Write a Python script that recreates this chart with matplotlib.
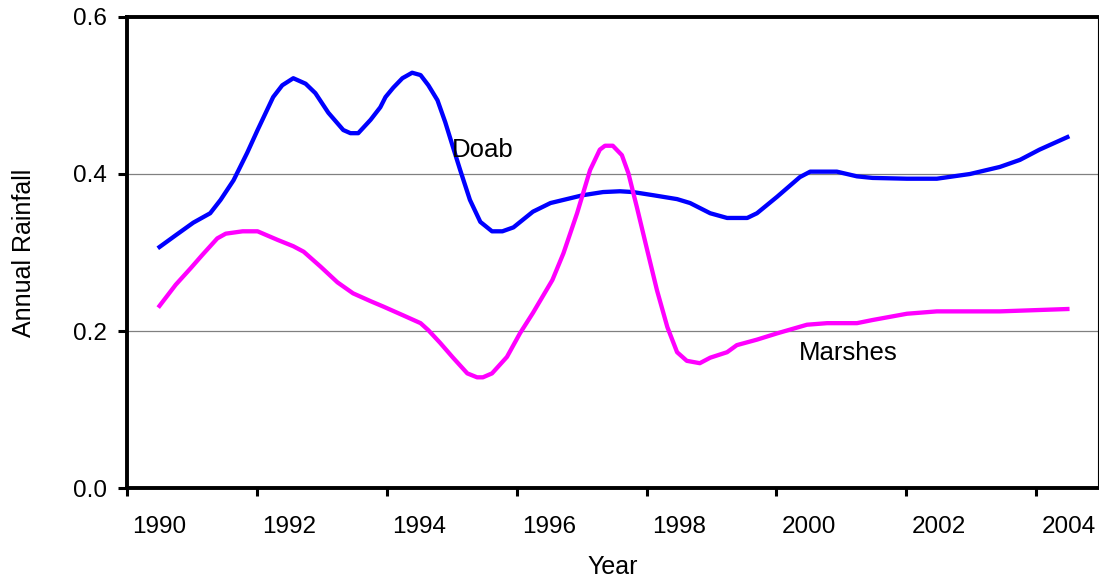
import matplotlib.pyplot as plt
from matplotlib.ticker import FixedLocator, NullFormatter

plt.rcParams.update({'font.family': ['Liberation Sans', 'DejaVu Sans'], 'font.size': 17.5})

# Doab series (fractional year, annual rainfall)
doab_year = [1990.0, 1990.25, 1990.52, 1990.78, 1990.94, 1991.14, 1991.35, 1991.51,
             1991.75, 1991.89, 1992.06, 1992.25, 1992.40, 1992.60, 1992.83, 1992.94,
             1993.06, 1993.25, 1993.40, 1993.48, 1993.60, 1993.74, 1993.89, 1994.02,
             1994.14, 1994.28, 1994.40, 1994.52, 1994.63, 1994.78, 1994.94, 1995.12,
             1995.28, 1995.45, 1995.75, 1996.02, 1996.32, 1996.52, 1996.83, 1997.09,
             1997.29, 1997.60, 1997.97, 1998.17, 1998.48, 1998.74, 1999.05, 1999.20,
             1999.51, 1999.86, 2000.02, 2000.43, 2000.74, 2000.98, 2001.51, 2001.97,
             2002.48, 2002.94, 2003.25, 2003.55, 2003.98]
doab_rain = [0.307, 0.322, 0.338, 0.350, 0.367, 0.392, 0.427, 0.456,
             0.498, 0.513, 0.522, 0.515, 0.503, 0.478, 0.456, 0.452,
             0.452, 0.469, 0.485, 0.498, 0.510, 0.522, 0.529, 0.526,
             0.513, 0.494, 0.466, 0.434, 0.405, 0.367, 0.339, 0.327,
             0.327, 0.332, 0.352, 0.363, 0.369, 0.373, 0.377, 0.378,
             0.377, 0.373, 0.368, 0.363, 0.350, 0.344, 0.344, 0.350,
             0.371, 0.396, 0.403, 0.403, 0.397, 0.395, 0.394, 0.394,
             0.400, 0.409, 0.418, 0.431, 0.447]

# Marshes series
marsh_year = [1990.0, 1990.25, 1990.48, 1990.66, 1990.89, 1991.02, 1991.28, 1991.51,
              1991.82, 1992.06, 1992.22, 1992.48, 1992.74, 1992.98, 1993.25, 1993.45,
              1993.75, 1994.02, 1994.14, 1994.32, 1994.52, 1994.74, 1994.89, 1994.98,
              1995.12, 1995.35, 1995.55, 1995.75, 1996.05, 1996.22, 1996.43, 1996.63,
              1996.78, 1996.86, 1996.98, 1997.12, 1997.22, 1997.35, 1997.51, 1997.66,
              1997.82, 1997.97, 1998.12, 1998.32, 1998.48, 1998.74, 1998.89, 1999.20,
              1999.51, 1999.97, 2000.28, 2000.74, 2000.98, 2001.51, 2001.97, 2002.94,
              2003.98]
marsh_rain = [0.232, 0.259, 0.280, 0.297, 0.318, 0.324, 0.327, 0.327,
              0.316, 0.308, 0.301, 0.282, 0.262, 0.248, 0.238, 0.231,
              0.220, 0.210, 0.201, 0.185, 0.166, 0.146, 0.141, 0.141,
              0.146, 0.167, 0.197, 0.223, 0.265, 0.299, 0.350, 0.405,
              0.431, 0.436, 0.436, 0.424, 0.401, 0.358, 0.303, 0.252,
              0.205, 0.173, 0.162, 0.159, 0.166, 0.173, 0.182, 0.189,
              0.197, 0.208, 0.210, 0.210, 0.214, 0.222, 0.225, 0.225,
              0.228]

year_labels = [1990, 1992, 1994, 1996, 1998, 2000, 2002, 2004]
y_ticks = [0.0, 0.2, 0.4, 0.6]

fig = plt.figure(figsize=(10.99, 5.8), dpi=100)
ax = fig.add_axes([0.1156, 0.1586, 0.8834, 0.8121])

ax.plot(doab_year, doab_rain, color='#0000FF', lw=3.1, zorder=3)
ax.plot(marsh_year, marsh_rain, color='#FF00FF', lw=3.1, zorder=3)

ax.text(1994.5, 0.43, 'Doab', ha='left', va='center', fontsize=18.5)
ax.text(1999.85, 0.172, 'Marshes', ha='left', va='center', fontsize=18.5)

ax.set_xlim(1989.5, 2004.45)
ax.set_ylim(0, 0.6)

# tick marks sit between categories, labels sit on the year itself
ax.xaxis.set_major_locator(FixedLocator([y - 0.5 for y in year_labels]))
ax.xaxis.set_major_formatter(NullFormatter())
ax.xaxis.set_minor_locator(FixedLocator(year_labels))
ax.set_xticklabels([str(y) for y in year_labels], minor=True)
ax.tick_params(axis='x', which='major', direction='out', length=6, width=2.2)
ax.tick_params(axis='x', which='minor', length=0, pad=20)

ax.set_yticks(y_ticks)
ax.set_yticklabels(['%.1f' % v for v in y_ticks])
ax.tick_params(axis='y', direction='out', length=6.5, width=2.2, pad=8)

ax.yaxis.grid(True, color='#808080', lw=0.9)
ax.set_axisbelow(True)

for side in ['left', 'bottom', 'top']:
    ax.spines[side].set_linewidth(2.8)
ax.spines['right'].set_linewidth(0.8)

ax.set_xlabel('Year', fontsize=18)
ax.xaxis.set_label_coords(0.5, -0.143)
ax.set_ylabel('Annual Rainfall', fontsize=18)
ax.yaxis.set_label_coords(-0.094, 0.5)

fig.savefig('out.png', dpi=100)
